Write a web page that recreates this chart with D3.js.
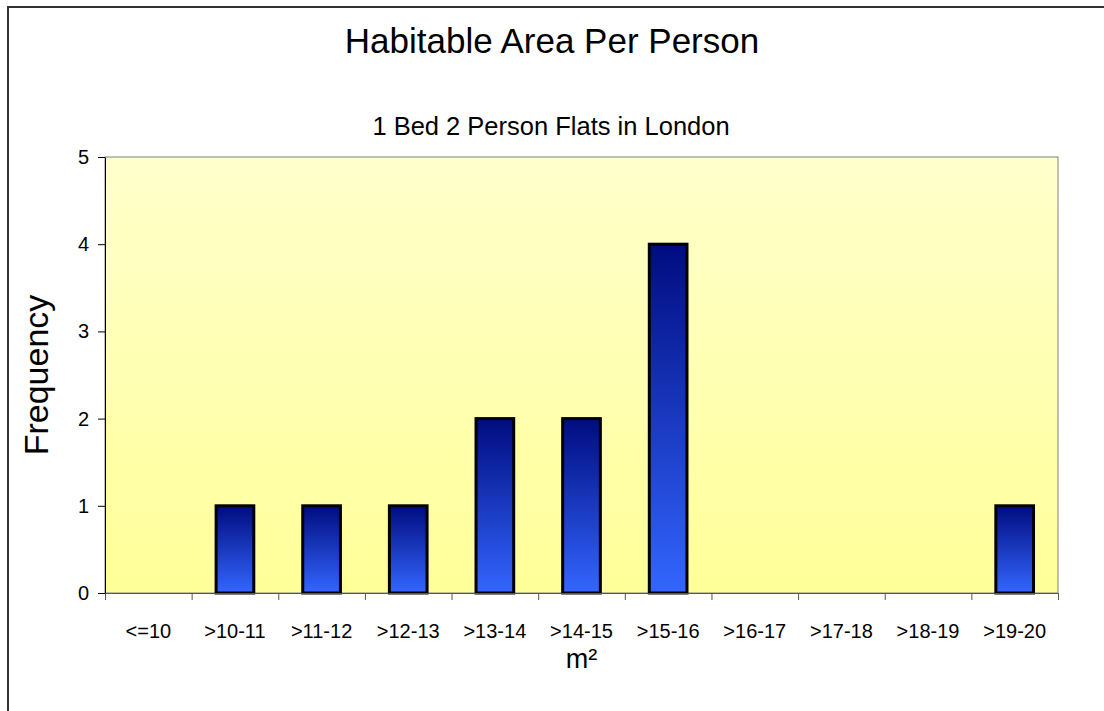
<!DOCTYPE html>
<html>
<head>
<meta charset="utf-8">
<script src="https://cdn.jsdelivr.net/npm/d3@7"></script>
<style>
  body { margin: 0; background: #fff; }
  svg { display: block; font-family: "Liberation Sans", Arial, sans-serif; }
</style>
</head>
<body>
<svg width="1104" height="711"></svg>
<script>
// data
const categories = ["<=10", ">10-11", ">11-12", ">12-13", ">13-14", ">14-15", ">15-16", ">16-17", ">17-18", ">18-19", ">19-20"];
const frequency = [0, 1, 1, 1, 2, 2, 4, 0, 0, 0, 1];
const yTicks = [0, 1, 2, 3, 4, 5];

const svg = d3.select("svg");
const width = 1104;
const height = 711;

const margin = { left: 105, right: 1058, top: 157, bottom: 593 };

// outer chart frame (cut off at right and bottom)
svg.append("path")
    .attr("d", `M8,${height + 5} L8,7 L${width + 5},7`)
    .attr("fill", "none")
    .attr("stroke", "#333")
    .attr("stroke-width", 2);

const defs = svg.append("defs");
const bg = defs.append("linearGradient").attr("id", "plotBg")
    .attr("x1", 0).attr("y1", 0).attr("x2", 0).attr("y2", 1);
bg.append("stop").attr("offset", "0%").attr("stop-color", "#ffffcc");
bg.append("stop").attr("offset", "100%").attr("stop-color", "#ffff99");

const barGrad = defs.append("linearGradient").attr("id", "barFill")
    .attr("x1", 0).attr("y1", 0).attr("x2", 0).attr("y2", 1);
barGrad.append("stop").attr("offset", "0%").attr("stop-color", "#000c80");
barGrad.append("stop").attr("offset", "100%").attr("stop-color", "#3366ff");

const x = d3.scaleBand()
    .domain(categories)
    .range([margin.left, margin.right])
    .paddingInner(0.565)
    .paddingOuter(0.2825);

// band edges for the tick marks
const xEdge = d3.scaleLinear()
    .domain([0, categories.length])
    .range([margin.left, margin.right]);

const y = d3.scaleLinear()
    .domain([0, 5])
    .range([margin.bottom, margin.top]);

// plot area
svg.append("rect")
    .attr("x", margin.left)
    .attr("y", margin.top)
    .attr("width", margin.right - margin.left)
    .attr("height", margin.bottom - margin.top)
    .attr("fill", "url(#plotBg)")
    .attr("stroke", "#808080")
    .attr("stroke-width", 1);

// bars
svg.append("g")
    .selectAll("rect")
    .data(frequency.map((v, i) => ({ cat: categories[i], v })).filter(d => d.v > 0))
    .join("rect")
    .attr("x", d => x(d.cat))
    .attr("y", d => y(d.v))
    .attr("width", x.bandwidth())
    .attr("height", d => y(0) - y(d.v))
    .attr("fill", "url(#barFill)")
    .attr("stroke", "#000")
    .attr("stroke-width", 3);

// x axis: ticks at band edges, labels at band centres
const xAxis = svg.append("g")
    .attr("transform", `translate(0,${margin.bottom})`)
    .call(d3.axisBottom(xEdge).tickValues(d3.range(categories.length + 1)).tickFormat("").tickSize(7).tickSizeOuter(0));
xAxis.selectAll("path, line").attr("stroke", "#555");

const xLabels = svg.append("g")
    .attr("transform", `translate(0,${margin.bottom})`)
    .call(d3.axisBottom(x).tickSize(0).tickPadding(31));
xLabels.select(".domain").remove();
xLabels.selectAll("text")
    .attr("font-family", "Liberation Sans, Arial, sans-serif")
    .attr("font-size", 20)
    .attr("fill", "#000");

// y axis
const yAxis = svg.append("g")
    .attr("transform", `translate(${margin.left},0)`)
    .call(d3.axisLeft(y).tickValues(yTicks).tickFormat(d3.format("d")).tickSize(7).tickSizeOuter(0).tickPadding(9));
yAxis.selectAll("path, line").attr("stroke", "#000");
yAxis.selectAll("text")
    .attr("font-family", "Liberation Sans, Arial, sans-serif")
    .attr("font-size", 20)
    .attr("fill", "#000");

// titles
svg.append("text")
    .attr("x", 552)
    .attr("y", 53)
    .attr("text-anchor", "middle")
    .attr("font-size", 35)
    .text("Habitable Area Per Person");

svg.append("text")
    .attr("x", 551)
    .attr("y", 135)
    .attr("text-anchor", "middle")
    .attr("font-size", 25.5)
    .text("1 Bed 2 Person Flats in London");

svg.append("text")
    .attr("transform", `translate(48,${(margin.top + margin.bottom) / 2}) rotate(-90)`)
    .attr("text-anchor", "middle")
    .attr("font-size", 34)
    .text("Frequency");

svg.append("text")
    .attr("x", (margin.left + margin.right) / 2)
    .attr("y", 668)
    .attr("text-anchor", "middle")
    .attr("font-size", 27)
    .text("m²");
</script>
</body>
</html>
